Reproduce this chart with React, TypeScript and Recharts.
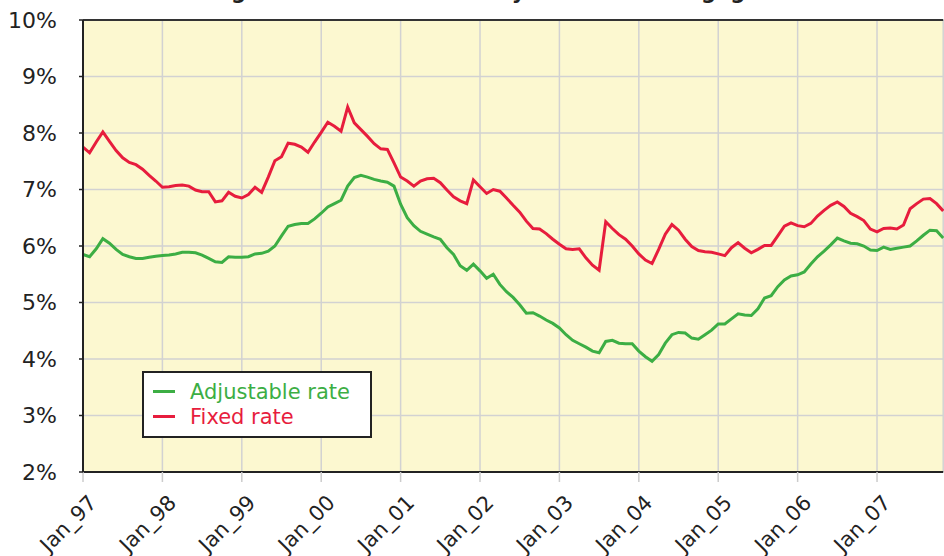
import React from 'react';
import { LineChart, Line, XAxis, YAxis, CartesianGrid, Legend, ReferenceLine } from 'recharts';

// monthly values, Jan 1997 .. Nov 2007
const ADJUSTABLE = [
  5.85, 5.81, 5.95, 6.13, 6.05, 5.94, 5.85, 5.81, 5.78, 5.78, 5.80, 5.82,
  5.83, 5.84, 5.86, 5.89, 5.89, 5.88, 5.84, 5.78, 5.72, 5.71, 5.81, 5.80,
  5.80, 5.81, 5.86, 5.87, 5.91, 6.00, 6.18, 6.35, 6.38, 6.40, 6.40, 6.48,
  6.58, 6.69, 6.75, 6.81, 7.06, 7.21, 7.25, 7.22, 7.18, 7.15, 7.13, 7.06,
  6.74, 6.50, 6.36, 6.26, 6.21, 6.16, 6.12, 5.97, 5.85, 5.65, 5.57, 5.68,
  5.56, 5.43, 5.50, 5.32, 5.19, 5.09, 4.96, 4.81, 4.82, 4.76, 4.69, 4.63,
  4.55, 4.43, 4.33, 4.27, 4.21, 4.14, 4.11, 4.31, 4.33, 4.28, 4.27, 4.27,
  4.14, 4.04, 3.96, 4.08, 4.28, 4.43, 4.47, 4.46, 4.37, 4.35, 4.43, 4.51,
  4.62, 4.62, 4.71, 4.80, 4.78, 4.77, 4.89, 5.08, 5.12, 5.28, 5.40, 5.47,
  5.49, 5.54, 5.68, 5.81, 5.91, 6.02, 6.14, 6.09, 6.05, 6.04, 6.00, 5.93,
  5.92, 5.98, 5.94, 5.96, 5.98, 6.00, 6.09, 6.19, 6.28, 6.27, 6.14,
];

const FIXED = [
  7.75, 7.65, 7.84, 8.02, 7.85, 7.69, 7.56, 7.48, 7.44, 7.36, 7.25, 7.15,
  7.04, 7.05, 7.07, 7.08, 7.06, 6.99, 6.96, 6.96, 6.78, 6.80, 6.95, 6.88,
  6.85, 6.91, 7.04, 6.95, 7.22, 7.51, 7.58, 7.82, 7.80, 7.75, 7.66, 7.84,
  8.01, 8.19, 8.12, 8.03, 8.46, 8.18, 8.06, 7.94, 7.81, 7.72, 7.71, 7.47,
  7.22, 7.15, 7.06, 7.15, 7.19, 7.20, 7.12, 6.99, 6.87, 6.80, 6.75, 7.17,
  7.05, 6.93, 7.00, 6.97, 6.85, 6.72, 6.60, 6.44, 6.31, 6.30, 6.22, 6.12,
  6.03, 5.95, 5.94, 5.95, 5.79, 5.66, 5.57, 6.43, 6.31, 6.20, 6.12, 6.00,
  5.86, 5.75, 5.69, 5.94, 6.21, 6.38, 6.28, 6.12, 5.99, 5.92, 5.90, 5.89,
  5.86, 5.83, 5.97, 6.06, 5.96, 5.88, 5.94, 6.01, 6.01, 6.18, 6.35, 6.41,
  6.36, 6.34, 6.40, 6.53, 6.63, 6.72, 6.78, 6.70, 6.58, 6.52, 6.45, 6.30,
  6.25, 6.31, 6.32, 6.30, 6.37, 6.66, 6.75, 6.83, 6.84, 6.75, 6.62,
];

const TICK_LABELS = [
  'Jan_97', 'Jan_98', 'Jan_99', 'Jan_00', 'Jan_01', 'Jan_02',
  'Jan_03', 'Jan_04', 'Jan_05', 'Jan_06', 'Jan_07',
];
const Y_TICKS = [2, 3, 4, 5, 6, 7, 8, 9, 10];

const TITLE = 'Average interest rates on 30-year home mortgages';

const GREEN = '#3cae44';
const RED = '#e71d3d';
const FONT = '"DejaVu Sans", Verdana, sans-serif';

const data = FIXED.map((v, i) => ({ month: i, adjustable: ADJUSTABLE[i], fixed: v }));
const xTicks = TICK_LABELS.map((_, i) => i * 12);

const MonthTick = ({ x, y, payload }: any) => {
  const ax = x + 15;
  const ay = y + 20;
  return (
    <text
      x={ax}
      y={ay}
      transform={`rotate(-45 ${ax} ${ay})`}
      textAnchor="end"
      fontSize={21}
      fontFamily={FONT}
      fill="#222"
    >
      {TICK_LABELS[Math.round(payload.value / 12)]}
    </text>
  );
};

const LegendBox = () => (
  <div
    style={{
      boxSizing: 'border-box',
      width: 230,
      height: 67,
      border: '2px solid #222',
      background: '#fff',
      fontFamily: FONT,
      fontSize: 21,
      padding: '6px 0 0 9px',
    }}
  >
    {[
      { name: 'Adjustable rate', color: GREEN },
      { name: 'Fixed rate', color: RED },
    ].map((it) => (
      <div key={it.name} style={{ display: 'flex', alignItems: 'center', height: 25, color: it.color }}>
        <span style={{ display: 'inline-block', width: 22, height: 3, background: it.color, marginRight: 15 }} />
        {it.name}
      </div>
    ))}
  </div>
);

export default function App() {
  return (
    <div style={{ position: 'fixed', left: 0, top: 0, width: 944, height: 556, overflow: 'hidden', background: '#fff' }}>
      <svg width={944} height={12} style={{ position: 'absolute', left: 0, top: 0 }}>
        <text x={163} y={-1.5} fontSize={21} fontWeight="bold" fontFamily={FONT} fill="#222">
          {TITLE}
        </text>
      </svg>
      <LineChart
        width={960}
        height={600}
        data={data}
        margin={{ top: 20, right: 16.8, bottom: 28, left: 0 }}
      >
        <CartesianGrid fill="#fcf8d0" stroke="#d2d2d2" strokeWidth={1.5} />
        <XAxis
          type="number"
          dataKey="month"
          domain={[0, 130]}
          ticks={xTicks}
          height={100}
          tick={<MonthTick />}
          tickSize={10}
          tickLine={{ stroke: '#cccccc', strokeWidth: 1.5 }}
          axisLine={{ stroke: '#222', strokeWidth: 2 }}
          interval={0}
        />
        <YAxis
          type="number"
          domain={[2, 10]}
          ticks={Y_TICKS}
          width={83}
          tickSize={4}
          tickMargin={22}
          tickFormatter={(v: number) => `${v}%`}
          tick={{ fontSize: 22, fill: '#222', fontFamily: FONT }}
          tickLine={{ stroke: '#222', strokeWidth: 1.5 }}
          axisLine={{ stroke: '#222', strokeWidth: 2 }}
        />
        <ReferenceLine y={10} stroke="#333" strokeWidth={2} />
        <Legend
          layout="vertical"
          align="center"
          verticalAlign="middle"
          content={<LegendBox />}
          wrapperStyle={{ left: 142, top: 371, width: 230, height: 67 }}
        />
        <Line type="linear" dataKey="adjustable" stroke={GREEN} strokeWidth={3} dot={false} isAnimationActive={false} />
        <Line type="linear" dataKey="fixed" stroke={RED} strokeWidth={3} dot={false} isAnimationActive={false} />
      </LineChart>
    </div>
  );
}
